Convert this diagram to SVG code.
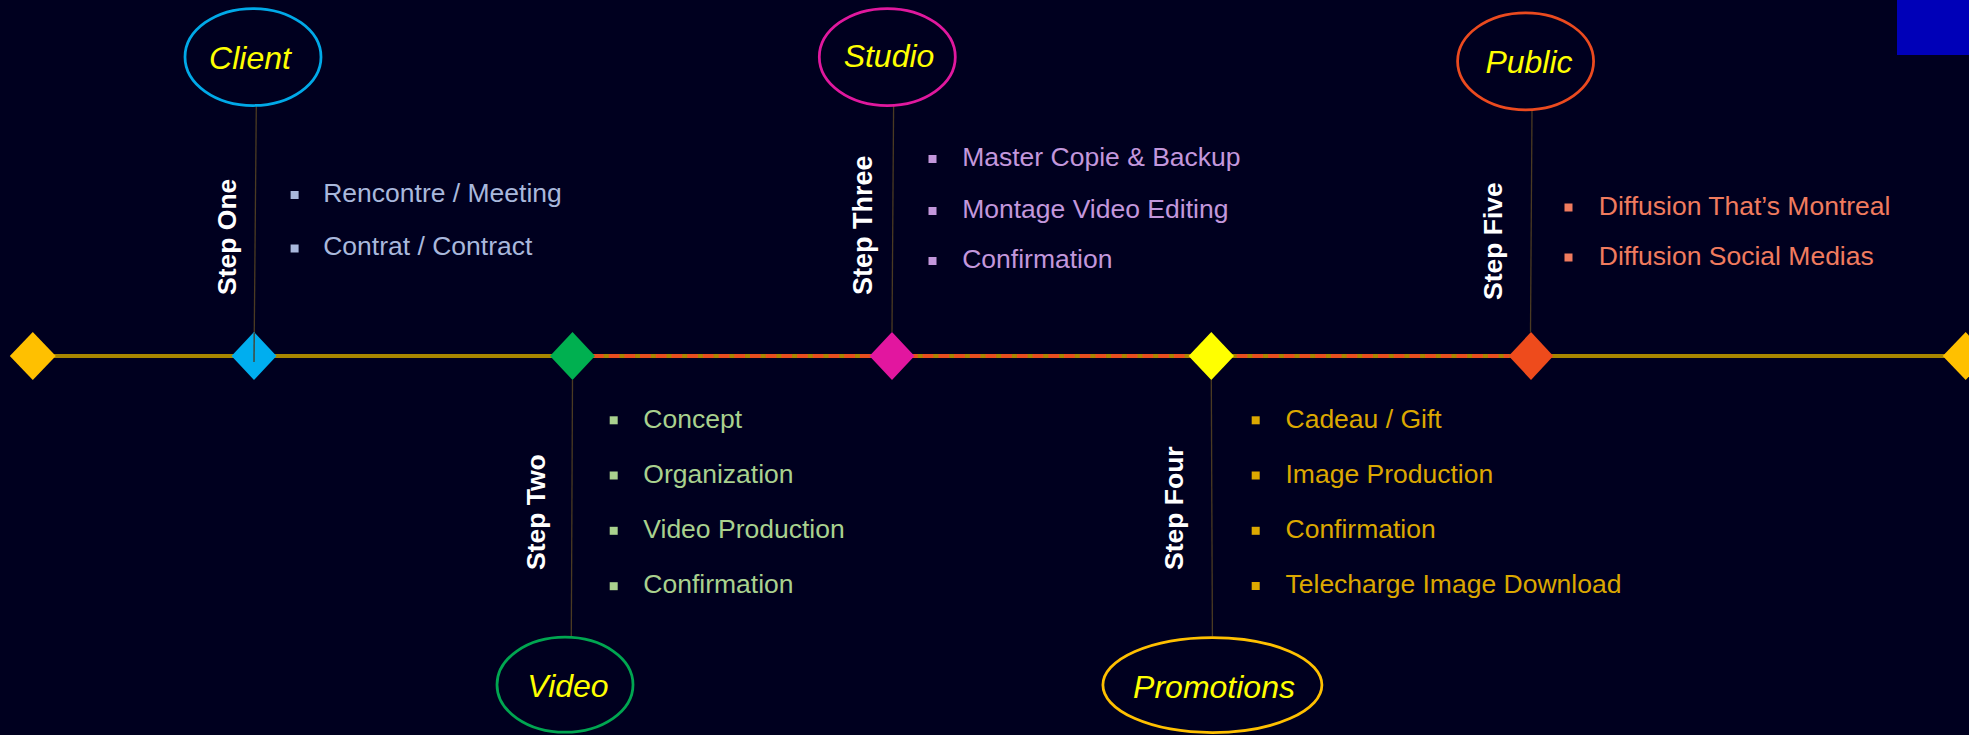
<svg xmlns="http://www.w3.org/2000/svg" width="1969" height="735" viewBox="0 0 1969 735">
<style>
.lbl{font-family:"Liberation Sans",Arial,sans-serif;font-style:italic;font-size:32px;fill:#ffff00;text-anchor:middle}
.step{font-family:"Liberation Sans",Arial,sans-serif;font-weight:bold;font-size:26.5px;fill:#ffffff}
.item{font-family:"Liberation Sans",Arial,sans-serif;font-size:26.5px}
.oval{fill:#00001f;stroke-width:2.75}
.conn{stroke:#4a3a22;stroke-width:1.3;fill:none}
.s1{fill:#a9b8dc}.s2{fill:#a9d18e}.s3{fill:#c397dc}.s4{fill:#dca800}.s5{fill:#f07b5e}
</style>
<rect x="0" y="0" width="1969" height="735" fill="#00001f"/>
<rect x="1897" y="0" width="72" height="55" fill="#0000b8"/>

<g id="timeline">
<line x1="33" y1="356" x2="1966" y2="356" stroke="#a88600" stroke-width="4"/>
<line x1="593" y1="356" x2="1509" y2="356" stroke="#e84e1e" stroke-width="4" stroke-dasharray="10.7 5"/>
</g>

<g id="connectors">
<line class="conn" x1="256.3" y1="106" x2="254" y2="362"/>
<line class="conn" x1="893.6" y1="106" x2="892" y2="332"/>
<line class="conn" x1="1532" y1="110" x2="1530.5" y2="332"/>
<line class="conn" x1="572.5" y1="380" x2="571.3" y2="636"/>
<line class="conn" x1="1211.3" y1="380" x2="1212.4" y2="636"/>
</g>

<g id="diamonds">
<polygon points="32.8,332 55.8,356 32.8,380 9.8,356" fill="#ffc000"/>
<polygon points="1965.7,332 1988.7,356 1965.7,380 1942.7,356" fill="#ffc000"/>
</g>

<g id="step-one">
<polygon points="254,332 276.5,356 254,380 231.5,356" fill="#00aeef"/>
<line class="conn" x1="254.2" y1="333" x2="254" y2="362"/>
<ellipse class="oval" cx="253" cy="57" rx="68" ry="48.5" stroke="#00a9e8"/>
<text class="lbl" x="250" y="69">Client</text>
<text class="step" transform="translate(235.5,295) rotate(-90)">Step One</text>
<rect class="s1" x="290.6" y="191" width="8" height="8"/>
<rect class="s1" x="290.6" y="244.5" width="8" height="8"/>
<text class="item s1" x="323.2" y="202.3">Rencontre / Meeting</text>
<text class="item s1" x="323.2" y="255">Contrat / Contract</text>
</g>

<g id="step-two">
<polygon points="572.5,332 595,356 572.5,380 550,356" fill="#00b050"/>
<ellipse class="oval" cx="565" cy="684.7" rx="68" ry="47.5" stroke="#00a651"/>
<text class="lbl" x="568" y="697.3">Video</text>
<text class="step" transform="translate(545,570) rotate(-90)">Step Two</text>
<rect class="s2" x="609.7" y="416.3" width="8" height="8"/>
<rect class="s2" x="609.7" y="471.5" width="8" height="8"/>
<rect class="s2" x="609.7" y="526.8" width="8" height="8"/>
<rect class="s2" x="609.7" y="582.2" width="8" height="8"/>
<text class="item s2" x="643.3" y="427.7">Concept</text>
<text class="item s2" x="643.3" y="482.7">Organization</text>
<text class="item s2" x="643.3" y="537.7">Video Production</text>
<text class="item s2" x="643.3" y="593.3">Confirmation</text>
</g>

<g id="step-three">
<polygon points="892,332 914.5,356 892,380 869.5,356" fill="#e2169f"/>
<ellipse class="oval" cx="887.3" cy="57" rx="68" ry="48.5" stroke="#e0189e"/>
<text class="lbl" x="889" y="66.7">Studio</text>
<text class="step" transform="translate(871.8,295) rotate(-90)" style="font-size:27px">Step Three</text>
<rect class="s3" x="928.5" y="155" width="8" height="8"/>
<rect class="s3" x="928.5" y="207" width="8" height="8"/>
<rect class="s3" x="928.5" y="257" width="8" height="8"/>
<text class="item s3" x="962.2" y="165.7">Master Copie &amp; Backup</text>
<text class="item s3" x="962.2" y="217.5">Montage Video Editing</text>
<text class="item s3" x="962.2" y="268.3">Confirmation</text>
</g>

<g id="step-four">
<polygon points="1211.3,332 1234,356 1211.3,380 1188.6,356" fill="#ffff00"/>
<ellipse class="oval" cx="1212.4" cy="685" rx="109.5" ry="47.5" stroke="#ffc000"/>
<text class="lbl" x="1214" y="697.7">Promotions</text>
<text class="step" transform="translate(1183.3,570) rotate(-90)">Step Four</text>
<rect class="s4" x="1251.7" y="416.3" width="8" height="8"/>
<rect class="s4" x="1251.7" y="471.5" width="8" height="8"/>
<rect class="s4" x="1251.7" y="526.8" width="8" height="8"/>
<rect class="s4" x="1251.7" y="582" width="8" height="8"/>
<text class="item s4" x="1285.5" y="427.7">Cadeau / Gift</text>
<text class="item s4" x="1285.5" y="482.7">Image Production</text>
<text class="item s4" x="1285.5" y="537.7">Confirmation</text>
<text class="item s4" x="1285.5" y="593.3">Telecharge Image Download</text>
</g>

<g id="step-five">
<polygon points="1531,332 1553.3,356 1531,380 1508.7,356" fill="#ee4b1c"/>
<ellipse class="oval" cx="1525.6" cy="61.3" rx="68" ry="48.5" stroke="#eb4a1f"/>
<text class="lbl" x="1529" y="72.7">Public</text>
<text class="step" transform="translate(1502.3,300) rotate(-90)">Step Five</text>
<rect class="s5" x="1564.5" y="203.5" width="8" height="8"/>
<rect class="s5" x="1564.5" y="253.5" width="8" height="8"/>
<text class="item s5" x="1598.8" y="215">Diffusion That’s Montreal</text>
<text class="item s5" x="1598.8" y="265">Diffusion Social Medias</text>
</g>
</svg>
